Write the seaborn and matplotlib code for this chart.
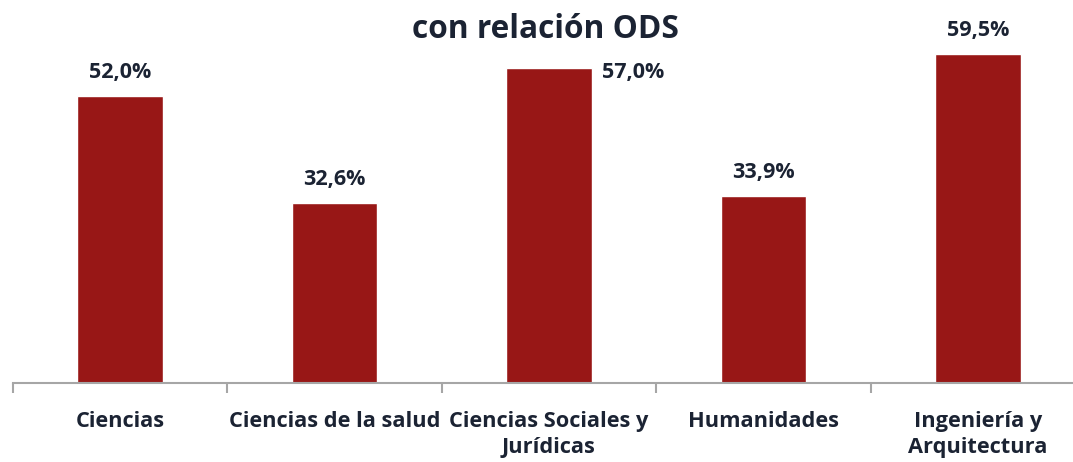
import matplotlib.pyplot as plt
import seaborn as sns
from matplotlib.ticker import FixedLocator

# ── Data ──────────────────────────────────────────────────────────────
ramas = ["Ciencias", "Ciencias de la salud", "Ciencias Sociales y\nJurídicas",
         "Humanidades", "Ingeniería y\nArquitectura"]
porcentajes = [52.0, 32.6, 57.0, 33.9, 59.5]
etiquetas = [f"{v:.1f}%".replace(".", ",") for v in porcentajes]

BAR_COLOR = "#981716"
TEXT_COLOR = "#1B2333"
AXIS_COLOR = "#A6A6A6"

sns.set_theme(style="white")
plt.rcParams["font.family"] = ["Open Sans", "DejaVu Sans"]
plt.rcParams["font.weight"] = "bold"

fig = plt.figure(figsize=(10.73, 4.62), dpi=100)
ax = fig.add_axes([13 / 1073, 79 / 462, 1072 / 1073, 375.7 / 462])

sns.barplot(x=ramas, y=porcentajes, color=BAR_COLOR, saturation=1,
            width=0.4, ax=ax)

ax.set_xlim(-0.5, 4.5)
ax.set_ylim(0, 68)
ax.set_yticks([])
for s in ["top", "right", "left"]:
    ax.spines[s].set_visible(False)
ax.spines["bottom"].set_color(AXIS_COLOR)
ax.spines["bottom"].set_linewidth(1.5)

# category labels without tick marks, separators as minor ticks
ax.set_xticks(range(len(ramas)), ramas, fontweight="bold", linespacing=1.3)
ax.tick_params(axis="x", which="major", length=0, pad=20,
               labelsize=15.7, labelcolor=TEXT_COLOR)
ax.xaxis.set_minor_locator(FixedLocator([i - 0.5 for i in range(len(ramas) + 1)]))
ax.tick_params(axis="x", which="minor", length=7, width=1.5, color=AXIS_COLOR,
               bottom=True)

# value labels
for i, (v, t) in enumerate(zip(porcentajes, etiquetas)):
    if i == 2:
        xy_off, ha = (38, -3), "left"
    else:
        xy_off, ha = (0, 17), "center"
    ax.annotate(t, (i, v), xytext=xy_off, textcoords="offset points",
                ha=ha, va="center", fontsize=15.5, fontweight="bold",
                color=TEXT_COLOR)

# title (first line clipped by the top edge, as in the source)
fig.text(0.508, 1 + 17 / 462, "Porcentaje de grupos por rama de investigación",
         ha="center", va="center", fontsize=22.8, fontweight="bold", color=TEXT_COLOR)
fig.text(0.508, 1 - 30 / 462, "con relación ODS",
         ha="center", va="center", fontsize=22.8, fontweight="bold", color=TEXT_COLOR)

fig.savefig("out.png", dpi=100)
